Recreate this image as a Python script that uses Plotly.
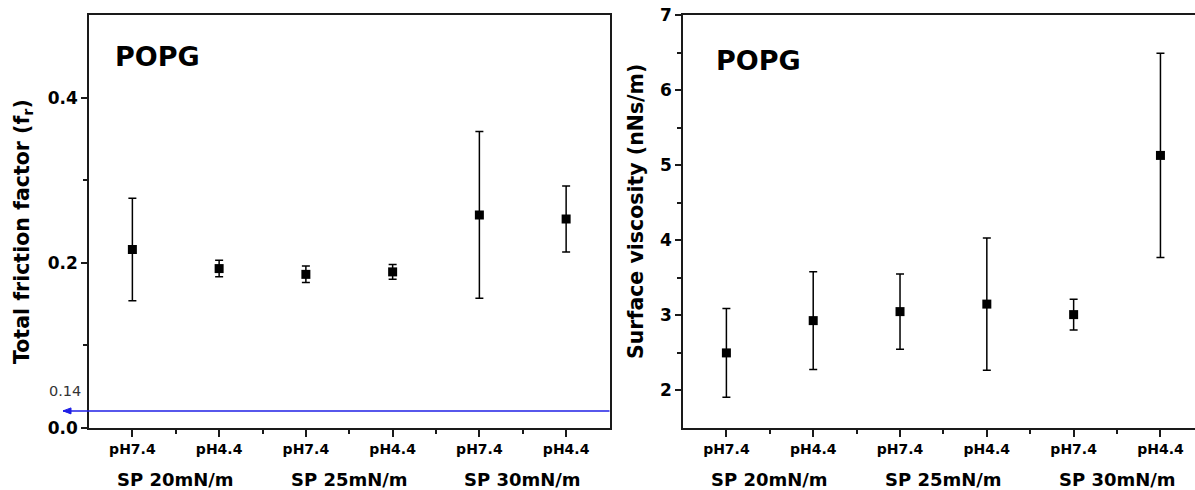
import plotly.graph_objects as go

# ---------------- data ----------------
positions = [1, 2, 3, 4, 5, 6]
ph_labels = ["pH7.4", "pH4.4", "pH7.4", "pH4.4", "pH7.4", "pH4.4"]
group_labels = ["SP 20mN/m", "SP 25mN/m", "SP 30mN/m"]
group_centers = [1.5, 3.5, 5.5]

friction = [0.216, 0.193, 0.186, 0.189, 0.258, 0.253]
friction_err = [0.062, 0.010, 0.010, 0.009, 0.101, 0.040]

viscosity = [2.50, 2.93, 3.05, 3.15, 3.01, 5.13]
viscosity_err = [0.59, 0.65, 0.50, 0.88, 0.205, 1.36]

sample_name = "POPG"
left_ytitle = "Total friction factor (f<sub>r</sub>)"
right_ytitle = "Surface viscosity (nNs/m)"
ref_value = 0.0207
ref_label = "0.14"

# ---------------- figure ----------------
W, H = 1195, 490
FONT = "DejaVu Sans, Arial, sans-serif"
AX = "#1a1a1a"
BLUE = "#1f1fe6"

fig = go.Figure()

marker = dict(symbol="square", size=9, color="black")

fig.add_trace(go.Scatter(
    x=positions, y=friction, mode="markers", marker=marker,
    error_y=dict(type="data", array=friction_err, color="black", thickness=1.5, width=4),
    xaxis="x", yaxis="y", showlegend=False))

fig.add_trace(go.Scatter(
    x=positions, y=viscosity, mode="markers", marker=marker,
    error_y=dict(type="data", array=viscosity_err, color="black", thickness=1.5, width=4),
    xaxis="x2", yaxis="y2", showlegend=False))

common_x = dict(
    tickvals=positions, ticktext=ph_labels,
    ticks="outside", ticklen=7, tickwidth=1.5, tickcolor=AX,
    showline=True, linecolor=AX, linewidth=1.5,
    showgrid=False, zeroline=False,
    tickfont=dict(family=FONT, size=14, color="black", weight="bold"),
    minor=dict(tickvals=[1.5, 2.5, 3.5, 4.5, 5.5], ticks="outside", ticklen=4,
               tickwidth=1.5, tickcolor=AX),
)
common_y = dict(
    ticks="outside", ticklen=6, tickwidth=1.5, tickcolor=AX,
    showline=True, linecolor=AX, linewidth=1.5,
    showgrid=False, zeroline=False,
    tickfont=dict(family=FONT, size=17, color="black", weight="bold"),
)

x1d = [89 / W, 609.5 / W]
x2d = [683 / W, 1.0]

fig.update_layout(
    width=W, height=H,
    margin=dict(l=0, r=0, t=15, b=62),
    plot_bgcolor="white", paper_bgcolor="white",
    xaxis=dict(domain=x1d, range=[0.5, 6.5], anchor="y", mirror=True, **common_x),
    yaxis=dict(domain=[0, 1], range=[0, 0.5], anchor="x", mirror=True,
               tickvals=[0, 0.2, 0.4], ticktext=["0.0", "0.2", "0.4"],
               minor=dict(tickvals=[0.1, 0.3], ticks="outside", ticklen=4,
                          tickwidth=1.5, tickcolor=AX),
               **common_y),
    xaxis2=dict(domain=x2d, range=[0.5, 6.398], anchor="y2", mirror=True, **common_x),
    yaxis2=dict(domain=[0, 1], range=[1.5, 7], anchor="x2", mirror=False,
                tickvals=[2, 3, 4, 5, 6, 7],
                minor=dict(tickvals=[2.5, 3.5, 4.5, 5.5, 6.5], ticks="outside", ticklen=4,
                           tickwidth=1.5, tickcolor=AX),
                **common_y),
)

ann = []
# group labels
for xa in ["x", "x2"]:
    for lbl, c in zip(group_labels, group_centers):
        ann.append(dict(x=c, xref=xa, y=-0.124, yref="paper", text=lbl, showarrow=False,
                        xanchor="center", yanchor="middle",
                        font=dict(family=FONT, size=18, color="black", weight="bold")))
# sample labels
ann.append(dict(x=0.047, xref="x domain", y=0.90, yref="y domain", text=sample_name,
                showarrow=False, xanchor="left", yanchor="middle",
                font=dict(family=FONT, size=27, color="black", weight="bold")))
ann.append(dict(x=0.06, xref="x2 domain", y=0.89, yref="y2 domain", text=sample_name,
                showarrow=False, xanchor="left", yanchor="middle",
                font=dict(family=FONT, size=27, color="black", weight="bold")))
# y titles
ann.append(dict(x=23 / W, xref="paper", y=(428 - 232) / 413, yref="paper", text=left_ytitle,
                showarrow=False, textangle=-90, xanchor="center", yanchor="middle",
                font=dict(family=FONT, size=20.5, color="black", weight="bold")))
ann.append(dict(x=636 / W, xref="paper", y=(428 - 212) / 413, yref="paper", text=right_ytitle,
                showarrow=False, textangle=-90, xanchor="center", yanchor="middle",
                font=dict(family=FONT, size=20.5, color="black", weight="bold")))
# small reference label
ann.append(dict(x=83 / W, xref="paper", y=(428 - 391) / 413, yref="paper", text=ref_label,
                showarrow=False, xanchor="right", yanchor="middle",
                font=dict(family=FONT, size=14.5, color="#333333")))
fig.update_layout(annotations=ann)

# blue reference line with arrowhead
fig.add_shape(type="line", xref="paper", yref="y",
              x0=63 / W, x1=609.5 / W, y0=ref_value, y1=ref_value,
              line=dict(color=BLUE, width=1.5))
fig.add_shape(type="path", xref="paper", yref="y",
              xsizemode="pixel", ysizemode="pixel",
              xanchor=63 / W, yanchor=ref_value,
              path="M 0 0 L 8 -3 L 8 3 Z",
              fillcolor=BLUE, line=dict(color=BLUE, width=1))

fig.write_html("out.html")
